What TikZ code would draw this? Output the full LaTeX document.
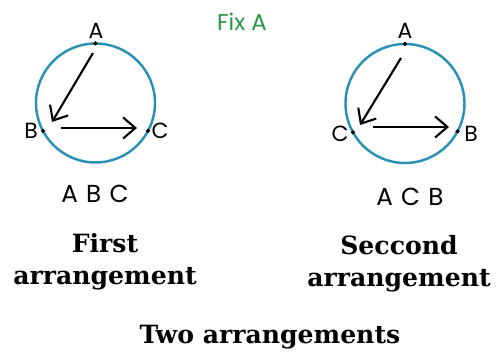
\documentclass[tikz,border=0pt]{standalone}
\usepackage{fontspec}
\setmainfont{Poppins}
\newfontfamily\headfont{DejaVu Serif}
\usetikzlibrary{arrows.meta}
\definecolor{ringblue}{RGB}{40,145,180}
\definecolor{fixgreen}{RGB}{40,150,70}
\tikzset{
    ring/.style={draw=ringblue, line width=1.4pt},
    move/.style={line width=1.2pt, -{Straight Barb[length=7pt,width=12pt,line width=1.2pt]}},
    lecter/.style={inner sep=0pt, font=\fontsize{12.5}{14}\selectfont},
    order/.style={inner sep=0pt, font=\fontsize{14}{16}\selectfont},
    caption/.style={inner sep=0pt, align=center, font=\headfont\bfseries\fontsize{14.3}{18.5}\selectfont}
}
\begin{document}
\begin{tikzpicture}
        \useasboundingbox (0,0) rectangle (10.06,7.14);
        % circle
        \coordinate (c1) at (1.91,5.08);\coordinate (c2) at (8.10,5.07);
        \draw [ring] (c1) circle (1.19);\draw [ring] (c2) circle (1.19);
        % point
        \coordinate (A1) at ([shift={(90:1.19)}]c1);\coordinate (B1) at ([shift={(208:1.19)}]c1);\coordinate (C1) at ([shift={(-28:1.19)}]c1);
        \coordinate (A2) at ([shift={(90:1.19)}]c2);\coordinate (C2) at ([shift={(209:1.19)}]c2);\coordinate (B2) at ([shift={(-28:1.19)}]c2);
        \filldraw[black] (A1) circle (1pt);\filldraw[black] (B1) circle (1pt);\filldraw[black] (C1) circle (1pt);
        \filldraw[black] (A2) circle (1pt);\filldraw[black] (C2) circle (1pt);\filldraw[black] (B2) circle (1pt);
        % lecter
        \node [lecter] (la1) at (1.92,6.52) {A};\node [lecter] (lb1) at (0.62,4.52) {B};\node [lecter] (lc1) at (3.20,4.52) {C};
        \node [lecter] (la2) at (8.10,6.52) {A};\node [lecter] (lc2) at (6.80,4.46) {C};\node [lecter] (lb2) at (9.42,4.46) {B};
        % arrow
        \coordinate (s1) at (1.86,6.08);\coordinate (e1) at (1.04,4.70);\coordinate (s2) at (1.22,4.58);\coordinate (e2) at (2.74,4.58);
        \coordinate (s3) at (8.02,5.98);\coordinate (e3) at (7.20,4.64);\coordinate (s4) at (7.46,4.60);\coordinate (e4) at (8.98,4.60);
        \draw [move] (s1) -- (e1);\draw [move] (s2) -- (e2);
        \draw [move] (s3) -- (e3);\draw [move] (s4) -- (e4);
        % text
        \node [inner sep=0pt, text=fixgreen, font=\fontsize{13}{15}\selectfont] (fix) at (4.84,6.70) {Fix A};
        \node [order] (abc) at (1.90,3.26) {A\,\,B\,\,C};
        \node [order] (acb) at (8.20,3.20) {A\,\,C\,\,B};
        \node [caption] (first) at (2.10,1.90) {First\\arrangement};
        \node [caption] (second) at (7.98,1.86) {Seccond\\arrangement};
        \node [caption] (two) at (5.40,0.40) {Two arrangements};
    \end{tikzpicture}
\end{document}
